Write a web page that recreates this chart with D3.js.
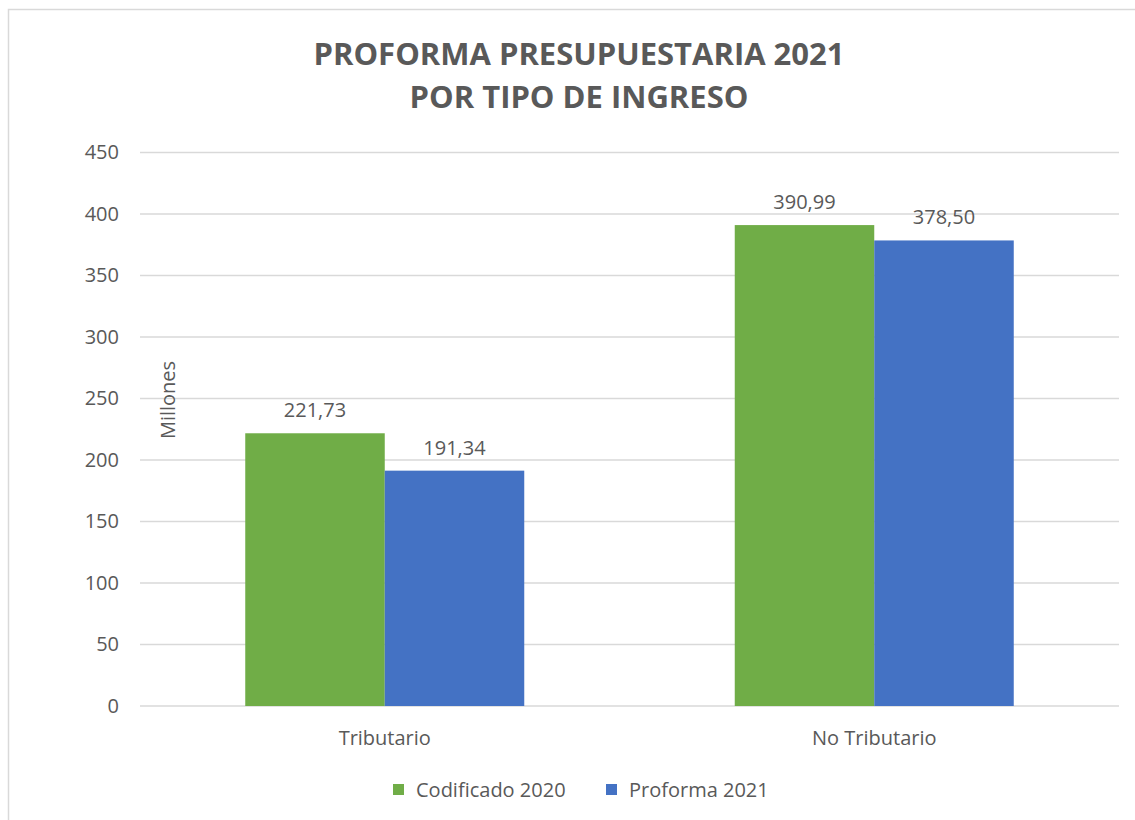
<!DOCTYPE html>
<html>
<head>
<meta charset="utf-8">
<script src="https://cdn.jsdelivr.net/npm/d3@7"></script>
<style>
  body { margin: 0; background: #fff; }
  svg { display: block; font-family: "Open Sans", sans-serif; }
</style>
</head>
<body>
<svg id="chart" width="1135" height="820"></svg>
<script>
// data
const categories = ['Tributario', 'No Tributario'];
const seriesNames = ['Codificado 2020', 'Proforma 2021'];
const codificado2020 = [221.73, 390.99];
const proforma2021 = [191.34, 378.50];
const yTicks = [0, 50, 100, 150, 200, 250, 300, 350, 400, 450];
const colors = ['#70ad47', '#4472c4'];

const svg = d3.select('#chart');
const textColor = '#595959';
const fs = '20px';

// frame (only top/left edges visible in the capture)
svg.append('rect')
    .attr('x', 8.5).attr('y', 9.5)
    .attr('width', 1200).attr('height', 900)
    .attr('fill', 'none')
    .attr('stroke', '#d9d9d9')
    .attr('stroke-width', 1.5);

const x0 = d3.scaleBand().domain(categories).range([140, 1119]).paddingInner(0).paddingOuter(0);
const x1 = d3.scaleBand().domain(seriesNames).range([0, 279]);
const bandPad = (x0.bandwidth() - 279) / 2;
const y = d3.scaleLinear().domain([0, 450]).range([706, 152.5]);

// gridlines
svg.append('g')
    .selectAll('line')
    .data(yTicks)
    .join('line')
    .attr('x1', 140).attr('x2', 1119)
    .attr('y1', d => y(d)).attr('y2', d => y(d))
    .attr('stroke', '#d9d9d9')
    .attr('stroke-width', 1.5);

// y axis labels
const yAxis = d3.axisLeft(y).tickValues(yTicks).tickSize(0).tickPadding(0);
const gy = svg.append('g').attr('transform', 'translate(119,0)').call(yAxis);
gy.select('.domain').remove();
gy.selectAll('text')
    .attr('fill', textColor)
    .style('font-size', fs)
    .style('font-family', '"Open Sans", sans-serif');

// bars
const rows = categories.map((c, i) => ({cat: c, vals: [codificado2020[i], proforma2021[i]]}));
const groups = svg.append('g')
    .selectAll('g')
    .data(rows)
    .join('g')
    .attr('transform', d => `translate(${x0(d.cat) + bandPad},0)`);

groups.selectAll('rect')
    .data(d => d.vals.map((v, j) => ({name: seriesNames[j], v, j})))
    .join('rect')
    .attr('x', d => x1(d.name))
    .attr('width', x1.bandwidth())
    .attr('y', d => y(d.v))
    .attr('height', d => y(0) - y(d.v))
    .attr('fill', d => colors[d.j]);

// value labels
const fmt = v => v.toFixed(2).replace('.', ',');
groups.selectAll('text')
    .data(d => d.vals.map((v, j) => ({name: seriesNames[j], v})))
    .join('text')
    .attr('x', d => x1(d.name) + x1.bandwidth() / 2)
    .attr('y', d => y(d.v) - 16)
    .attr('text-anchor', 'middle')
    .attr('fill', textColor)
    .style('font-size', fs)
    .text(d => fmt(d.v));

// x axis labels
const xAxis = d3.axisBottom(x0).tickSize(0).tickPadding(0);
const gx = svg.append('g').attr('transform', 'translate(0,745)').call(xAxis);
gx.select('.domain').remove();
gx.selectAll('text')
    .attr('fill', textColor)
    .attr('dy', 0)
    .style('font-size', fs)
    .style('font-family', '"Open Sans", sans-serif');

// y axis title
svg.append('text')
    .attr('transform', 'translate(175,400) rotate(-90)')
    .attr('text-anchor', 'middle')
    .attr('fill', textColor)
    .style('font-size', fs)
    .text('Millones');

// title
const title = svg.append('text')
    .attr('text-anchor', 'middle')
    .attr('fill', textColor)
    .style('font-size', '31px')
    .style('font-weight', 'bold');
title.append('tspan').attr('x', 579).attr('y', 65).text('PROFORMA PRESUPUESTARIA 2021');
title.append('tspan').attr('x', 579).attr('y', 108).text('POR TIPO DE INGRESO');

// legend
const legendX = [393, 606];
const leg = svg.append('g')
    .selectAll('g')
    .data(seriesNames)
    .join('g')
    .attr('transform', (d, i) => `translate(${legendX[i]},784)`);
leg.append('rect')
    .attr('width', 11).attr('height', 11)
    .attr('fill', (d, i) => colors[i]);
leg.append('text')
    .attr('x', 23).attr('y', 13)
    .attr('fill', textColor)
    .style('font-size', fs)
    .text(d => d);
</script>
</body>
</html>
